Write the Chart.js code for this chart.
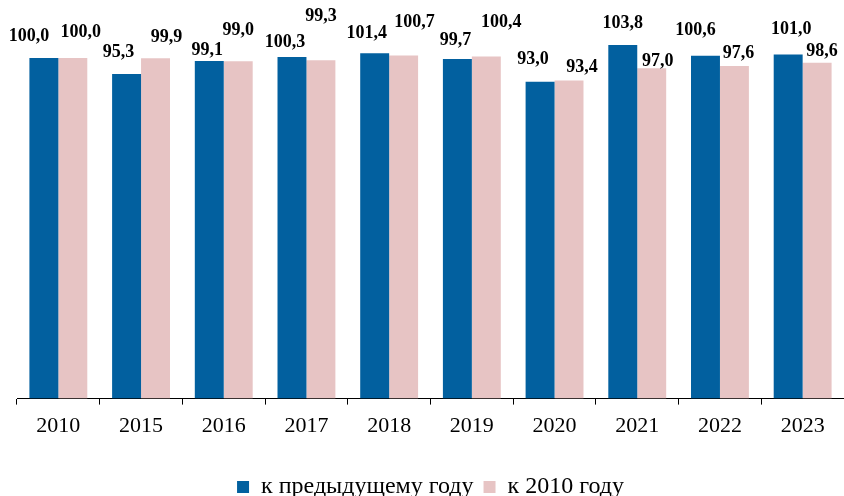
<!DOCTYPE html>
<html>
<head>
<meta charset="utf-8">
<script src="https://cdn.jsdelivr.net/npm/chart.js@4.4.1/dist/chart.umd.min.js"></script>
<style>
    html, body { margin: 0; padding: 0; background: #fff; }
    #wrap { width: 844px; height: 496px; }
</style>
</head>
<body>
<div id="wrap"><canvas id="index-chart"></canvas></div>
<script>
var years = ['2010', '2015', '2016', '2017', '2018', '2019', '2020', '2021', '2022', '2023'];
var prevYear = [100.0, 95.3, 99.1, 100.3, 101.4, 99.7, 93.0, 103.8, 100.6, 101.0];
var vs2010 = [100.0, 99.9, 99.0, 99.3, 100.7, 100.4, 93.4, 97.0, 97.6, 98.6];

// label nudges (px) as placed in the original
var prevDx = [-15, -8, -2, -7, -8, -2, -7, 0, -10, 3];
var prevDy = [22, 22, 11, 15, 20, 19, 22, 22, 26, 25];
var baseDx = [8, 11, 0, 0, 11, 15, 13, 6, 4, 5];
var baseDy = [26, 21, 31, 44, 33, 34, 13, 7, 13, 11];

var serif = '"Liberation Serif", "Times New Roman", serif';

var valueLabels = {
    id: 'valueLabels',
    afterDatasetsDraw: function (chart) {
        var ctx = chart.ctx;
        var offsets = [[prevDx, prevDy], [baseDx, baseDy]];
        ctx.save();
        ctx.font = 'bold 18px ' + serif;
        ctx.fillStyle = '#000';
        ctx.textAlign = 'center';
        ctx.textBaseline = 'middle';
        chart.data.datasets.forEach(function (ds, i) {
            var meta = chart.getDatasetMeta(i);
            meta.data.forEach(function (bar, j) {
                var txt = ds.data[j].toFixed(1).replace('.', ',');
                ctx.fillText(txt, bar.x + offsets[i][0][j], bar.y - offsets[i][1][j]);
            });
        });
        ctx.restore();
    }
};

new Chart(document.getElementById('index-chart'), {
    type: 'bar',
    data: {
        labels: years,
        datasets: [
            {
                label: 'к предыдущему году',
                data: prevYear,
                backgroundColor: '#02609F',
                categoryPercentage: 0.7,
                barPercentage: 1.0,
            },
            {
                label: 'к 2010 году',
                data: vs2010,
                backgroundColor: '#E7C4C4',
                categoryPercentage: 0.7,
                barPercentage: 1.0,
            },
        ],
    },
    options: {
        responsive: true,
        maintainAspectRatio: false,
        animation: false,
        layout: {
            padding: { left: 17, right: 0, top: 0, bottom: -13 },
        },
        plugins: {
            legend: {
                position: 'bottom',
                labels: {
                    boxWidth: 12,
                    boxHeight: 12,
                    padding: 10,
                    color: '#000',
                    font: { family: serif, size: 24 },
                },
            },
            tooltip: { enabled: false },
        },
        scales: {
            y: {
                display: false,
                min: 0,
                max: 117,
            },
            x: {
                grid: {
                    offset: true,
                    drawOnChartArea: false,
                    drawTicks: true,
                    tickLength: 6,
                    color: '#000',
                },
                border: { display: true, color: '#000', width: 1 },
                ticks: {
                    color: '#000',
                    padding: 8,
                    font: { family: serif, size: 22 },
                },
                afterFit: function (scale) {
                    scale.height += 18;
                },
            },
        },
    },
    plugins: [valueLabels],
});
</script>
</body>
</html>
